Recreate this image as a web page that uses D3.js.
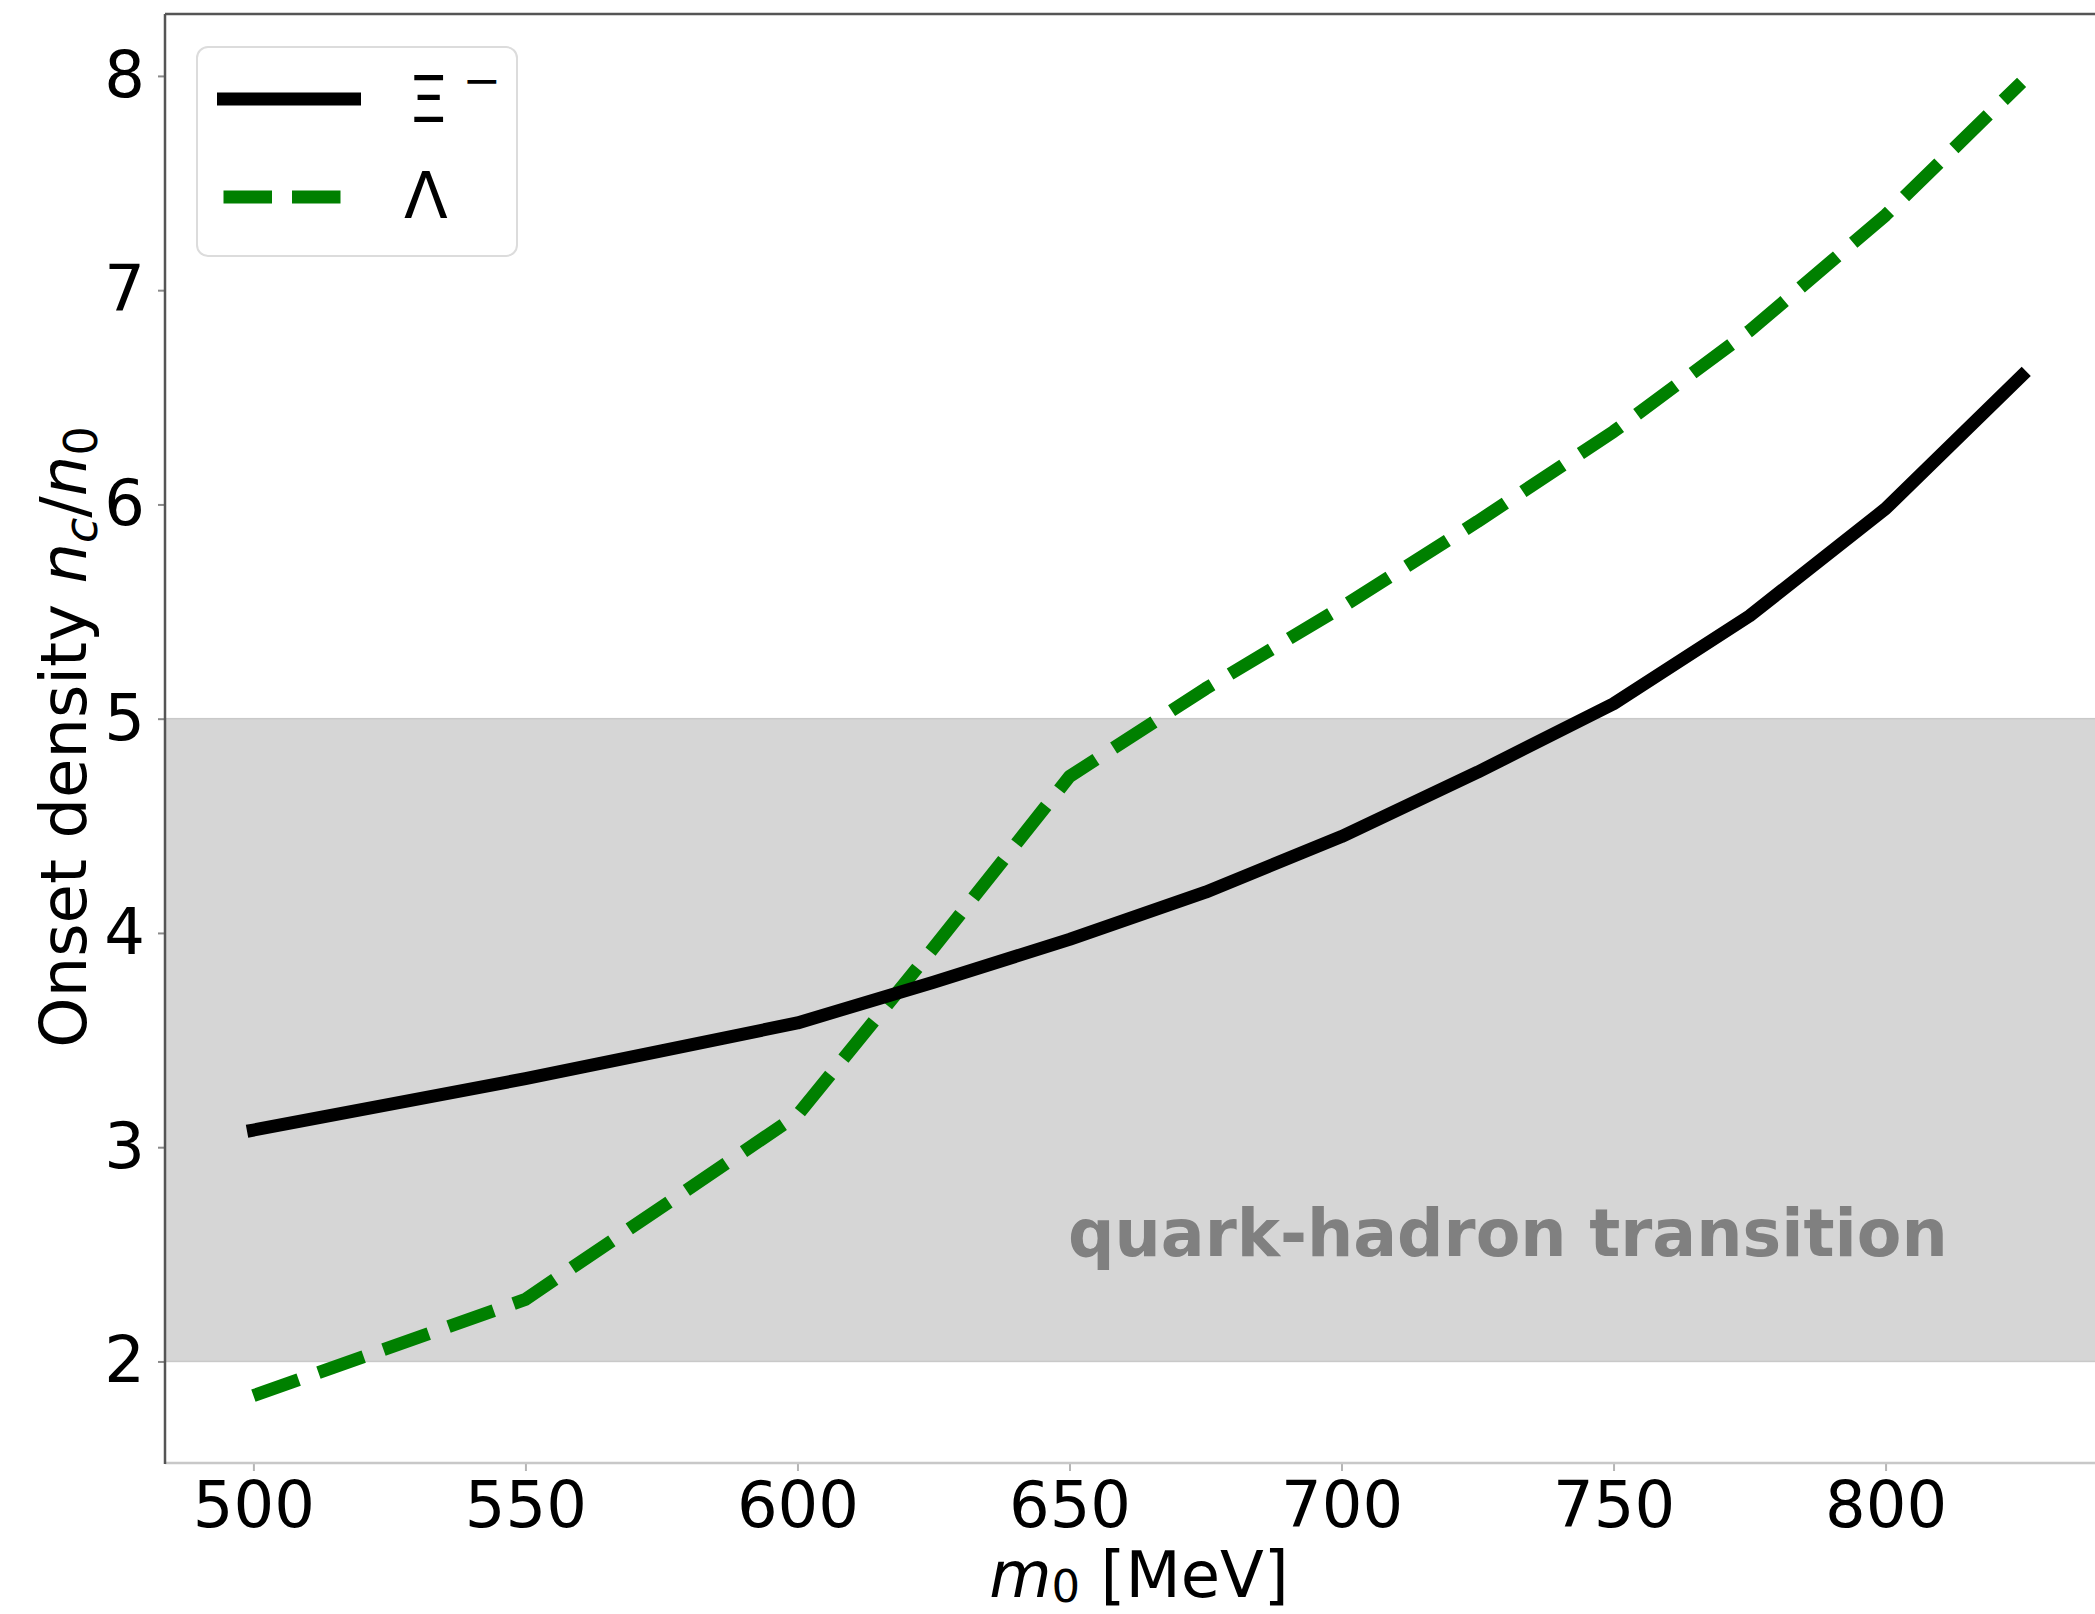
<!DOCTYPE html>
<html>
<head>
<meta charset="utf-8">
<script src="https://cdn.jsdelivr.net/npm/d3@7"></script>
<style>
  html, body { margin: 0; padding: 0; background: #fff; }
  svg { display: block; }
  text { font-family: "DejaVu Sans", sans-serif; }
</style>
</head>
<body>
<svg id="chart" width="2095" height="1614"></svg>
<script>
// ---- data ----
const massXi = [500, 525, 550, 575, 600, 625, 650, 675, 700, 725, 750, 775, 800, 825];
const onsetXi = [3.08, 3.20, 3.32, 3.45, 3.58, 3.77, 3.97, 4.19, 4.45, 4.75, 5.07, 5.48, 5.98, 6.60];
const massLambda = [500, 550, 600, 625, 650, 675, 700, 725, 750, 775, 800, 825];
const onsetLambda = [1.84, 2.29, 3.15, 3.93, 4.73, 5.14, 5.52, 5.92, 6.34, 6.81, 7.35, 7.97];
const xTicks = [500, 550, 600, 650, 700, 750, 800];
const yTicks = [2, 3, 4, 5, 6, 7, 8];
const bandRange = [2, 5];
const bandLabel = "quark-hadron transition";
const seriesNames = ["Ξ", "Λ"];

(function () {
// ---- layout ----
const svg = d3.select("#chart");
const pL = 165, pR = 2110, pT = 14, pB = 1463;
const x = d3.scaleLinear().domain([483.75, 841.25]).range([pL, pR]);
const y = d3.scaleLinear().domain([1.526, 8.289]).range([pB, pT]);

// band
svg.append("rect")
  .attr("x", pL).attr("width", pR - pL)
  .attr("y", y(bandRange[1])).attr("height", y(bandRange[0]) - y(bandRange[1]))
  .attr("fill", "#d6d6d6").attr("stroke", "#c9c9c9").attr("stroke-width", 1.5);

// band label
svg.append("text")
  .attr("x", 1068).attr("y", 1256)
  .attr("font-size", 65).attr("font-weight", "bold")
  .attr("fill", "#808080")
  .text(bandLabel);

// lines
const lineGen = d3.line().x(d => x(d[0])).y(d => y(d[1]));
const dXi = massXi.map((m, i) => [m, onsetXi[i]]);
const dL = massLambda.map((m, i) => [m, onsetLambda[i]]);

svg.append("path").datum(dL)
  .attr("d", lineGen).attr("fill", "none")
  .attr("stroke", "#008000").attr("stroke-width", 13)
  .attr("stroke-dasharray", "48,21").attr("stroke-linecap", "butt")
  .attr("stroke-linejoin", "round");

svg.append("path").datum(dXi)
  .attr("d", lineGen).attr("fill", "none")
  .attr("stroke", "#000").attr("stroke-width", 13)
  .attr("stroke-linecap", "square").attr("stroke-linejoin", "round");

// axes
const xAxis = d3.axisBottom(x).tickValues(xTicks).tickSize(8).tickPadding(11).tickFormat(d3.format("d"));
const gx = svg.append("g").attr("transform", `translate(0,${pB})`).call(xAxis);
gx.select(".domain").remove();
gx.selectAll(".tick line").attr("stroke", "#b5b5b5").attr("stroke-width", 2);
gx.selectAll(".tick text").attr("font-size", 64).attr("fill", "#000").attr("font-family", "DejaVu Sans");

const yAxis = d3.axisLeft(y).tickValues(yTicks).tickSize(7).tickPadding(13).tickFormat(d3.format("d"));
const gy = svg.append("g").attr("transform", `translate(${pL},0)`).call(yAxis);
gy.select(".domain").remove();
gy.selectAll(".tick line").attr("stroke", "#8a8a8a").attr("stroke-width", 2);
gy.selectAll(".tick text").attr("font-size", 64).attr("fill", "#000").attr("font-family", "DejaVu Sans");

// spines
svg.append("line").attr("x1", pL).attr("x2", pR).attr("y1", pB).attr("y2", pB)
  .attr("stroke", "#c8c8c8").attr("stroke-width", 2.5);
svg.append("line").attr("x1", pL).attr("x2", pL).attr("y1", pT).attr("y2", pB + 1)
  .attr("stroke", "#555").attr("stroke-width", 2.5);
svg.append("line").attr("x1", pL).attr("x2", pR).attr("y1", pT).attr("y2", pT)
  .attr("stroke", "#555").attr("stroke-width", 2.5);

// axis labels
const xl = svg.append("text").attr("x", 1139).attr("y", 1597)
  .attr("text-anchor", "middle").attr("font-size", 64).attr("fill", "#000");
xl.append("tspan").attr("font-style", "italic").text("m");
xl.append("tspan").attr("font-size", 45).attr("dy", 5).text("0");
xl.append("tspan").attr("dy", -5).text(" [MeV]");

const yl = svg.append("text")
  .attr("transform", "translate(86,737) rotate(-90)")
  .attr("text-anchor", "middle").attr("font-size", 64).attr("fill", "#000");
yl.append("tspan").text("Onset density ");
yl.append("tspan").attr("font-style", "italic").text("n");
yl.append("tspan").attr("font-style", "italic").attr("font-size", 46).attr("dy", 11).text("c");
yl.append("tspan").attr("dy", -11).text("/");
yl.append("tspan").attr("font-style", "italic").text("n");
yl.append("tspan").attr("font-size", 46).attr("dy", 11).text("0");

// legend
const lg = svg.append("g");
lg.append("rect").attr("x", 197).attr("y", 47).attr("width", 320).attr("height", 209)
  .attr("rx", 11).attr("fill", "#fff").attr("fill-opacity", 0.8)
  .attr("stroke", "#dcdcdc").attr("stroke-width", 2);
lg.append("line").attr("x1", 223.5).attr("x2", 354.5).attr("y1", 99).attr("y2", 99)
  .attr("stroke", "#000").attr("stroke-width", 13).attr("stroke-linecap", "square");
lg.append("line").attr("x1", 223.5).attr("x2", 354.5).attr("y1", 197).attr("y2", 197)
  .attr("stroke", "#008000").attr("stroke-width", 13).attr("stroke-dasharray", "48.5,20")
  .attr("stroke-linecap", "butt");
const t1 = lg.append("text").attr("x", 408).attr("y", 122).attr("font-size", 64).attr("fill", "#000");
t1.append("tspan").text(seriesNames[0]);
t1.append("tspan").attr("font-size", 46).attr("dx", 14).attr("dy", -26).text("−");
lg.append("text").attr("x", 404).attr("y", 218).attr("font-size", 64).attr("fill", "#000").text(seriesNames[1]);
})();
</script>
</body>
</html>
